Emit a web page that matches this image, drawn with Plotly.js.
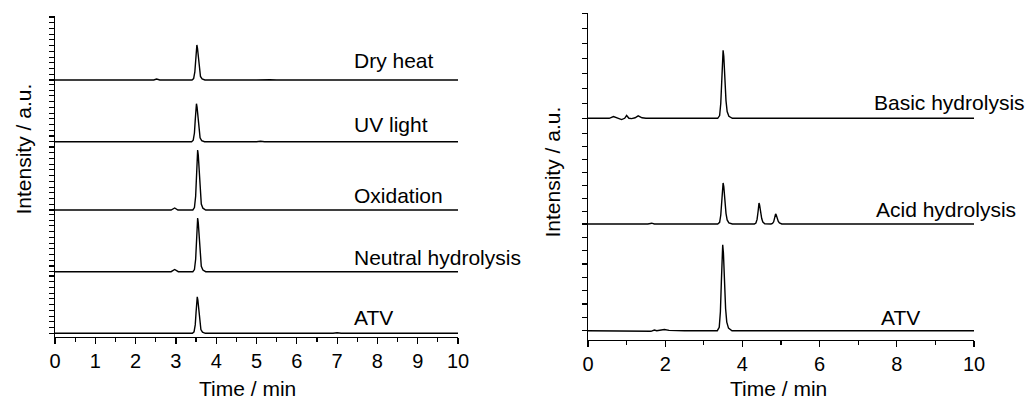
<!DOCTYPE html>
<html>
<head>
<meta charset="utf-8">
<script src="https://cdn.plot.ly/plotly-3.0.1.min.js"></script>
<style>
html, body { margin: 0; padding: 0; background: #ffffff; }
#chart { width: 1027px; height: 404px; }
</style>
</head>
<body>
<div id="chart"></div>
<script>
// ---------------- DATA (time in min, intensity in a.u.) ----------------
// Left panel (stacked chromatograms, bottom to top)
const atvLeftTime = [0, 1.5, 1.9, 2.1, 2.8, 3.41, 3.45, 3.48, 3.50, 3.52, 3.53, 3.545, 3.57, 3.595, 3.62, 3.66, 3.73, 6.9, 7.0, 7.1, 8.75, 8.85, 8.95, 10];
const atvLeftInt  = [0, 0, 0.6, 0.3, 0, 0, 1.5, 8.4, 20.8, 34.3, 36.5, 33.2, 20.8, 9.5, 3.7, 1.1, 0, 0, 0.6, 0, 0, 0.5, 0, 0];

const neutralTime = [0, 1.68, 1.72, 1.78, 2.88, 2.97, 3.06, 3.42, 3.46, 3.49, 3.51, 3.53, 3.54, 3.555, 3.58, 3.605, 3.63, 3.67, 3.74, 10];
const neutralInt  = [0, 0, 0.6, 0, 0, 2.2, 0, 0, 2.1, 12.4, 30.6, 50.5, 53.7, 49, 30.6, 14, 5.4, 1.6, 0, 0];

const oxidationTime = [0, 1.7, 1.74, 1.8, 2.88, 2.97, 3.05, 3.42, 3.46, 3.49, 3.51, 3.53, 3.54, 3.555, 3.58, 3.605, 3.63, 3.67, 3.74, 10];
const oxidationInt  = [0, 0, 0.6, 0, 0, 2, 0, 0, 2.4, 13.8, 34, 56, 60, 55, 34, 15.5, 6, 1.8, 0, 0];

const uvTime = [0, 1.6, 1.7, 2.0, 2.6, 2.8, 3.39, 3.43, 3.46, 3.48, 3.50, 3.51, 3.525, 3.55, 3.575, 3.60, 3.64, 3.71, 5.0, 5.1, 5.2, 10];
const uvInt  = [0, 0, 0.3, 0, 0.4, 0, 0, 1.5, 8.7, 21.7, 35.7, 38, 34.6, 21.7, 9.9, 3.8, 1.1, 0, 0, 0.4, 0, 0];

const dryHeatTime = [0, 2.45, 2.52, 2.6, 3.40, 3.44, 3.47, 3.49, 3.51, 3.52, 3.535, 3.56, 3.585, 3.61, 3.65, 3.72, 4.6, 4.84, 5.0, 5.33, 5.5, 10];
const dryHeatInt  = [0, 0, 0.9, 0, 0, 1.4, 8, 20, 33, 35, 32, 20, 9, 3.5, 1, 0, 0, 0.4, 0, 0.3, 0, 0];

const leftLabels = ['ATV', 'Neutral hydrolysis', 'Oxidation', 'UV light', 'Dry heat'];
const leftTimes  = [atvLeftTime, neutralTime, oxidationTime, uvTime, dryHeatTime];
const leftInts   = [atvLeftInt, neutralInt, oxidationInt, uvInt, dryHeatInt];

// Right panel (bottom to top)
const atvRightTime = [0, 1.5, 1.63, 1.72, 1.78, 1.98, 2.1, 2.5, 3.35, 3.40, 3.43, 3.455, 3.478, 3.49, 3.508, 3.535, 3.565, 3.595, 3.64, 3.73, 6.95, 7.05, 7.15, 8.85, 8.95, 9.05, 10];
const atvRightInt  = [0, 0, -0.6, 0.7, 0, 1.2, 0.3, 0, 0, 3.4, 19, 49, 81, 86, 78, 49, 22, 8.6, 2.6, 0, 0, 0.4, 0, 0, 0.3, 0, 0];

const acidTime = [0, 1.55, 1.65, 1.72, 3.36, 3.41, 3.44, 3.465, 3.488, 3.50, 3.518, 3.545, 3.575, 3.605, 3.65, 3.74,
                  4.31, 4.35, 4.38, 4.405, 4.42, 4.43, 4.445, 4.47, 4.50, 4.53, 4.58,
                  4.74, 4.78, 4.81, 4.835, 4.85, 4.86, 4.875, 4.90, 4.93, 4.96, 5.02, 10];
const acidInt  = [0, 0, 0.8, 0, 0, 1.6, 9, 23.4, 38.5, 41, 37.3, 23.4, 10.7, 4.1, 1.2, 0,
                  0, 1, 4.6, 12, 19.7, 21, 19, 12, 5.5, 2, 0.3,
                  0, 0.5, 2.2, 5.7, 9.4, 10, 9.1, 5.7, 2.6, 1, 0, 0];

const basicTime = [0, 0.55, 0.66, 0.76, 0.87, 0.95, 1.0, 1.06, 1.13, 1.22, 1.30, 1.40, 1.50, 3.36, 3.41, 3.44, 3.465, 3.488, 3.50, 3.518, 3.545, 3.575, 3.605, 3.65, 3.74, 8.0, 8.1, 8.3, 10];
const basicInt  = [0, 0, 1.8, 0.2, -1.3, 0, 2.8, 0, -0.3, 0.5, 2.5, 0.5, 0, 0, 2.7, 15, 38.8, 64, 68, 62, 38.8, 17.7, 6.8, 2, 0, 0, 0.5, 0, 0];

const rightLabels = ['ATV', 'Acid hydrolysis', 'Basic hydrolysis'];
const rightTimes  = [atvRightTime, acidTime, basicTime];
const rightInts   = [atvRightInt, acidInt, basicInt];

const xTitle = 'Time / min';
const yTitle = 'Intensity / a.u.';

// ---------------- LAYOUT GEOMETRY (pixels) ----------------
const W = 1027, H = 404;
const FONT = 'Liberation Sans, Arial, Helvetica, sans-serif';
const px = p => p / W;
const py = p => (H - p) / H;

const leftXpx = [55, 458];
const leftBottoms = [337, 275.4, 213.7, 145.4, 83.7];
const leftTopPx = 16;
const leftBaseOff = 3.7;
const leftDtick = 5.73;
const leftLabelX = 7.37;
const leftLabelDy = [15.8, 14.5, 14.2, 16.9, 20];

const rightXpx = [588, 974];
const rightBottoms = [340, 233.3, 127.6];
const rightTopPx = 13;
const rightBaseOff = 9.3;
const rightDticks = [13.33, 12.95, 15];
const rightLabelX = [7.54, 7.41, 7.36];
const rightLabelDy = [13.2, 14.8, 15.8];

const traces = [];
const layout = {
  width: W, height: H,
  margin: {l: 0, r: 0, t: 0, b: 0, pad: 0},
  paper_bgcolor: '#ffffff', plot_bgcolor: 'rgba(0,0,0,0)',
  showlegend: false,
  font: {family: FONT, color: '#000000', size: 20},
  annotations: []
};

function yAxisSpec(bottom, top, off, dt, xa) {
  const h = bottom - top;
  return {
    domain: [py(bottom), py(top)], range: [-off, h - off], anchor: xa,
    showline: true, linecolor: '#000', linewidth: 1.2,
    ticks: 'outside', ticklen: 5, tickwidth: 1.1, tickcolor: '#000',
    tick0: 0, dtick: dt, showticklabels: false,
    showgrid: false, zeroline: false, fixedrange: true
  };
}

function xAxisSpec(dom, anchor, dt, mdt) {
  return {
    domain: dom, range: [0, 10], anchor: anchor,
    showline: true, linecolor: '#000', linewidth: 1.2,
    ticks: 'outside', ticklen: 6, tickwidth: 1.2, tickcolor: '#000',
    tick0: 0, dtick: dt,
    minor: {dtick: mdt, ticks: 'outside', ticklen: 3.3, tickwidth: 1.2, tickcolor: '#000', showgrid: false},
    tickfont: {family: FONT, size: 20, color: '#000'},
    showgrid: false, zeroline: false, fixedrange: true
  };
}

layout.xaxis = xAxisSpec([px(leftXpx[0]), px(leftXpx[1])], 'y', 1, 0.5);
layout.xaxis2 = xAxisSpec([px(rightXpx[0]), px(rightXpx[1])], 'y6', 2, 1);

// Left stack
for (let i = 0; i < leftLabels.length; i++) {
  const n = i + 1;
  const yName = n === 1 ? 'y' : 'y' + n;
  const top = i < leftLabels.length - 1 ? leftBottoms[i + 1] : leftTopPx;
  layout[n === 1 ? 'yaxis' : 'yaxis' + n] = yAxisSpec(leftBottoms[i], top, leftBaseOff, leftDtick, 'x');
  traces.push({
    x: leftTimes[i], y: leftInts[i], xaxis: 'x', yaxis: yName,
    type: 'scatter', mode: 'lines', name: leftLabels[i],
    line: {color: '#000', width: 1.4}, hoverinfo: 'skip'
  });
  layout.annotations.push({
    xref: 'x', yref: yName, x: leftLabelX, y: leftLabelDy[i],
    xanchor: 'left', yanchor: 'middle', showarrow: false,
    text: leftLabels[i], font: {family: FONT, size: 21, color: '#000'}
  });
}

// Right stack
for (let i = 0; i < rightLabels.length; i++) {
  const n = i + 6;
  const yName = 'y' + n;
  const top = i < rightLabels.length - 1 ? rightBottoms[i + 1] : rightTopPx;
  layout['yaxis' + n] = yAxisSpec(rightBottoms[i], top, rightBaseOff, rightDticks[i], 'x2');
  traces.push({
    x: rightTimes[i], y: rightInts[i], xaxis: 'x2', yaxis: yName,
    type: 'scatter', mode: 'lines', name: rightLabels[i],
    line: {color: '#000', width: 1.4}, hoverinfo: 'skip'
  });
  layout.annotations.push({
    xref: 'x2', yref: yName, x: rightLabelX[i], y: rightLabelDy[i],
    xanchor: 'left', yanchor: 'middle', showarrow: false,
    text: rightLabels[i], font: {family: FONT, size: 21, color: '#000'}
  });
}

// Axis titles
const titleFont = {family: FONT, size: 21, color: '#000'};
layout.annotations.push(
  {xref: 'paper', yref: 'paper', x: px(247), y: py(388), xanchor: 'center', yanchor: 'middle',
   showarrow: false, text: xTitle, font: titleFont},
  {xref: 'paper', yref: 'paper', x: px(778), y: py(388), xanchor: 'center', yanchor: 'middle',
   showarrow: false, text: xTitle, font: titleFont},
  {xref: 'paper', yref: 'paper', x: px(22.5), y: py(149), xanchor: 'center', yanchor: 'middle',
   textangle: -90, showarrow: false, text: yTitle, font: titleFont},
  {xref: 'paper', yref: 'paper', x: px(551.5), y: py(172), xanchor: 'center', yanchor: 'middle',
   textangle: -90, showarrow: false, text: yTitle, font: titleFont}
);

Plotly.newPlot('chart', traces, layout, {staticPlot: true, displayModeBar: false});
</script>
</body>
</html>
